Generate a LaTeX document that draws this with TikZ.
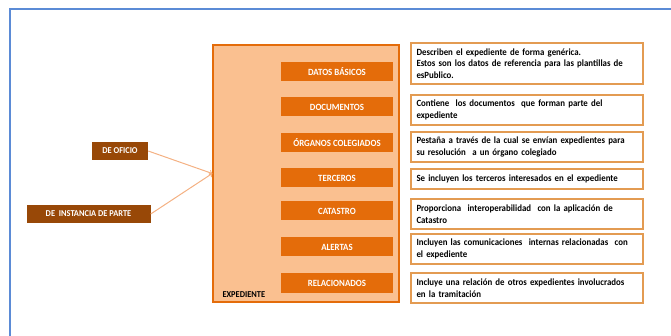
\documentclass[tikz,border=0pt]{standalone}
\usepackage{fontspec}
\setmainfont{Carlito}
\newfontfamily\estrecha{Carlito}[FakeStretch=0.93]
\definecolor{naranja}{HTML}{E46C0A}
\definecolor{melocoton}{HTML}{FAC090}
\definecolor{marron}{HTML}{984807}
\definecolor{borde}{HTML}{E39B52}
\definecolor{flecha}{HTML}{F4B183}
\definecolor{marco}{HTML}{5B8BD6}
\begin{document}
\begin{tikzpicture}[x=1pt,y=-1pt,
    pestana/.style={fill=naranja,text=white,font=\estrecha\fontsize{9.5}{10}\selectfont\bfseries,minimum width=112pt,minimum height=19pt,inner sep=0pt},
    origen/.style={fill=marron,text=white,font=\estrecha\fontsize{9}{10}\selectfont\bfseries,minimum height=18pt,inner sep=0pt},
    descripcion/.style={draw=borde,line width=1.2pt,fill=white,minimum width=232pt,text width=221pt,align=left,inner sep=0pt,font=\estrecha\fontsize{9.5}{11.5}\selectfont\bfseries}]
  \useasboundingbox (0,0) rectangle (671,336);

  % Frame
  \draw[marco,line width=1.5pt] (10,336) -- (10,9) -- (671,9);

  % Expediente
  \node[draw=naranja,line width=1.5pt,fill=melocoton,minimum width=186pt,minimum height=257pt,inner sep=0pt] (expediente) at (306,173.5) {};
  \node[anchor=west,font=\estrecha\fontsize{9}{10}\selectfont\bfseries] (etiqueta) at (219,295) {EXPEDIENTE};

  % Tabs
  \node[pestana] (datos) at (337,72) {DATOS BÁSICOS};
  \node[pestana] (documentos) at (337,107) {DOCUMENTOS};
  \node[pestana] (organos) at (337,143) {ÓRGANOS COLEGIADOS};
  \node[pestana] (terceros) at (337,178) {TERCEROS};
  \node[pestana] (catastro) at (337,211) {CATASTRO};
  \node[pestana] (alertas) at (337,247) {ALERTAS};
  \node[pestana] (relacionados) at (337,283) {RELACIONADOS};

  % Descriptions
  \node[descripcion,minimum height=41pt] (d1) at (527,63.5) {Describen el expediente de forma genérica.\\Estos son los datos de referencia para las plantillas de\\esPublico.};
  \node[descripcion,minimum height=30pt] (d2) at (527,110) {Contiene\ \ los documentos\ \ que forman parte del\\expediente};
  \node[descripcion,minimum height=30pt] (d3) at (527,147) {Pestaña a través de la cual se envían expedientes para\\su resolución\ \ a un órgano colegiado};
  \node[descripcion,minimum height=20pt] (d4) at (527,179) {Se incluyen los terceros interesados en el expediente};
  \node[descripcion,minimum height=30pt] (d5) at (527,214) {Proporciona\ \ interoperabilidad\ \ con la aplicación de\\Catastro};
  \node[descripcion,minimum height=30pt] (d6) at (527,249) {Incluyen las comunicaciones\ \ internas relacionadas\ \ con\\el expediente};
  \node[descripcion,minimum height=30pt] (d7) at (527,288) {Incluye una relación de otros expedientes involucrados\\en la tramitación};

  % Origins
  \node[origen,minimum width=56pt] (oficio) at (120,151) {DE OFICIO};
  \node[origen,minimum width=124pt] (instancia) at (88.5,214) {DE\ \ INSTANCIA DE PARTE};

  % Arrows
  \draw[->,flecha,line width=1pt] (oficio.east) -- (expediente.west);
  \draw[->,flecha,line width=1pt] (instancia.east) -- (expediente.west);
\end{tikzpicture}
\end{document}
